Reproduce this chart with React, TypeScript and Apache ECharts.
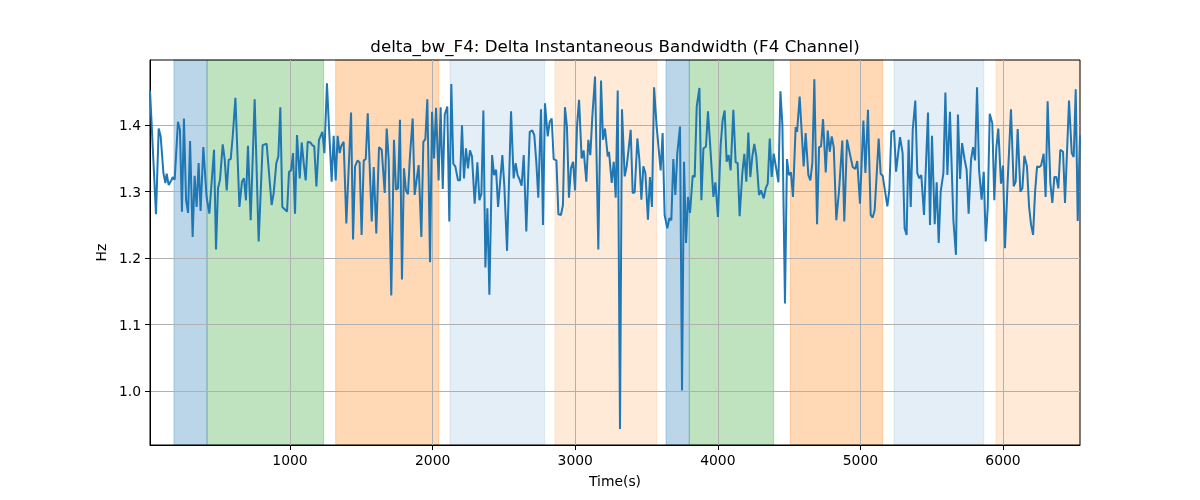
import React, { useEffect, useRef } from "react";
import * as echarts from "echarts";

const titleText = "delta_bw_F4: Delta Instantaneous Bandwidth (F4 Channel)";
const xLabel = "Time(s)";
const yLabel = "Hz";
const xTicks = [1000, 2000, 3000, 4000, 5000, 6000];
const yTicks = [1.0, 1.1, 1.2, 1.3, 1.4];
const xRange = [18, 6540];
const yRange = [0.919, 1.498];

const times = [
  18, 60, 79, 93, 112, 126, 135, 149, 168, 177, 191, 214, 228, 242, 256, 271, 285, 299, 317, 331,
  345, 359, 373, 392, 415, 434, 467, 481, 495, 509, 528, 542, 556, 570, 584, 598, 617, 645, 663, 677,
  691, 705, 724, 752, 780, 808, 836,
  871, 885, 904, 918, 932, 946, 979, 993, 1007, 1021, 1035, 1049, 1068, 1082, 1096, 1110, 1124, 1142,
  1156, 1170, 1185, 1203, 1227, 1241, 1259, 1273, 1292, 1306, 1320, 1334, 1348, 1358, 1376, 1395, 1428,
  1442, 1456, 1474, 1488, 1502, 1517, 1531, 1545, 1573, 1587, 1605, 1624, 1643,
  1664, 1678, 1692, 1710, 1729, 1743, 1757, 1771, 1785, 1799, 1813, 1827, 1841, 1860, 1874, 1888, 1902,
  1921, 1935, 1949, 1963, 1982, 1996, 2010, 2024, 2042, 2056, 2071, 2085, 2103, 2117, 2131, 2145, 2159,
  2178, 2192, 2206, 2220, 2234, 2248, 2262, 2276, 2295, 2314, 2328, 2342, 2356, 2370, 2384, 2398, 2417,
  2431, 2445, 2459,
  2489, 2503, 2522, 2550, 2568, 2582, 2596, 2610, 2624, 2639, 2657, 2681, 2699, 2713, 2727, 2741, 2760,
  2774, 2788, 2807, 2821, 2835, 2849, 2868, 2882, 2900, 2914, 2928, 2942, 2956, 2970, 2985, 2999, 3013,
  3027, 3045, 3059, 3078, 3092, 3106, 3120, 3139, 3162, 3181, 3195, 3209, 3228, 3237, 3256, 3270, 3284,
  3298,
  3314, 3328, 3347, 3361, 3375, 3389, 3403, 3417, 3436, 3450, 3464, 3478, 3492, 3510, 3524, 3538, 3553,
  3571, 3599, 3613, 3627, 3646, 3660, 3674, 3688, 3702, 3716, 3735, 3749, 3763, 3777, 3791, 3805, 3824,
  3838, 3852, 3871, 3885, 3899, 3917, 3931, 3950, 3969, 3983, 4001, 4020, 4034, 4048, 4062, 4076, 4090,
  4109,
  4125, 4139, 4153, 4172, 4186, 4200, 4214, 4228, 4242, 4256, 4270, 4289, 4303, 4322, 4336, 4350, 4364,
  4378, 4392, 4411, 4425, 4439, 4453, 4471, 4485, 4499, 4513, 4527, 4546, 4556, 4574, 4602, 4616, 4635,
  4649, 4663, 4677, 4696, 4710, 4724, 4738, 4757, 4771, 4785, 4799, 4813, 4831, 4850, 4873, 4887, 4906,
  4930,
  4946, 4964, 4978, 4997, 5021, 5035, 5053, 5072, 5086, 5100, 5114, 5128, 5142, 5156, 5189, 5203, 5217,
  5236, 5250, 5278, 5296, 5310, 5324, 5338, 5353, 5367, 5385, 5399, 5413, 5427, 5446, 5474, 5488, 5502,
  5521, 5535, 5549, 5563, 5582, 5596, 5610, 5628, 5652, 5670, 5684, 5699, 5713, 5731, 5745, 5759,
  5776, 5790, 5804, 5818, 5832, 5850, 5865, 5879, 5893, 5907, 5925, 5939, 5953, 5967, 5986, 6000, 6014,
  6033, 6056, 6075, 6089, 6103, 6122, 6136, 6150, 6168, 6183, 6197, 6211, 6225, 6239, 6253, 6267, 6285,
  6299, 6313, 6332, 6346, 6360, 6374, 6388, 6402, 6421, 6435, 6463, 6482, 6496, 6510, 6524, 6540,
];

const values = [
  1.452, 1.266, 1.395, 1.383, 1.328, 1.313, 1.327, 1.31, 1.317, 1.322, 1.318, 1.405, 1.393, 1.27, 1.41, 1.287, 1.268, 1.376, 1.232, 1.324,
  1.277, 1.343, 1.271, 1.367, 1.292, 1.267, 1.363, 1.213, 1.305, 1.318, 1.371, 1.348, 1.302, 1.348, 1.349, 1.383, 1.441, 1.277, 1.315, 1.32,
  1.287, 1.369, 1.257, 1.439, 1.225, 1.37, 1.372,
  1.28, 1.297, 1.343, 1.353, 1.427, 1.277, 1.27, 1.33, 1.332, 1.358, 1.267, 1.385, 1.32, 1.374, 1.343, 1.317, 1.375, 1.374,
  1.37, 1.368, 1.308, 1.378, 1.39, 1.358, 1.463, 1.398, 1.315, 1.384, 1.317, 1.384, 1.358, 1.368, 1.375, 1.252, 1.419,
  1.228, 1.338, 1.347, 1.344, 1.235, 1.347, 1.349, 1.418, 1.255, 1.337, 1.237, 1.367, 1.363,
  1.298, 1.395, 1.348, 1.144, 1.378, 1.303, 1.305, 1.408, 1.168, 1.335, 1.302, 1.296, 1.353, 1.41, 1.295, 1.318, 1.34,
  1.232, 1.375, 1.379, 1.439, 1.194, 1.42, 1.35, 1.426, 1.317, 1.427, 1.304, 1.416, 1.428, 1.255, 1.462, 1.342, 1.338,
  1.317, 1.317, 1.4, 1.32, 1.365, 1.335, 1.362, 1.353, 1.282, 1.344, 1.287, 1.297, 1.422, 1.186, 1.275, 1.145, 1.355,
  1.325, 1.333, 1.277,
  1.355, 1.308, 1.211, 1.421, 1.32, 1.343, 1.325, 1.318, 1.309, 1.355, 1.24, 1.39, 1.392, 1.385, 1.345, 1.291, 1.424,
  1.25, 1.433, 1.383, 1.405, 1.41, 1.349, 1.347, 1.266, 1.265, 1.28, 1.427, 1.398, 1.291, 1.335, 1.345, 1.302, 1.4,
  1.438, 1.35, 1.362, 1.315, 1.378, 1.355, 1.413, 1.473, 1.213, 1.467, 1.378, 1.395, 1.353, 1.36, 1.313, 1.345, 1.291,
  1.452,
  0.943, 1.424, 1.323, 1.338, 1.365, 1.393, 1.298, 1.299, 1.38, 1.348, 1.288, 1.338, 1.328, 1.258, 1.322, 1.277, 1.457,
  1.398, 1.332, 1.388, 1.265, 1.245, 1.26, 1.257, 1.349, 1.295, 1.358, 1.398, 1.001, 1.345, 1.223, 1.292, 1.268, 1.324,
  1.322, 1.428, 1.456, 1.287, 1.365, 1.368, 1.421, 1.358, 1.292, 1.314, 1.262, 1.37, 1.408, 1.422, 1.345, 1.355, 1.332,
  1.423,
  1.344, 1.343, 1.263, 1.328, 1.357, 1.315, 1.389, 1.322, 1.353, 1.372, 1.353, 1.295, 1.302, 1.29, 1.305, 1.312, 1.38,
  1.322, 1.357, 1.333, 1.314, 1.451, 1.4, 1.132, 1.349, 1.325, 1.329, 1.292, 1.397, 1.39, 1.443, 1.338, 1.388, 1.325,
  1.317, 1.343, 1.469, 1.251, 1.367, 1.368, 1.409, 1.329, 1.392, 1.36, 1.383, 1.367, 1.257, 1.301, 1.377, 1.255, 1.378,
  1.353,
  1.337, 1.334, 1.346, 1.282, 1.407, 1.328, 1.423, 1.265, 1.261, 1.272, 1.325, 1.38, 1.327, 1.324, 1.278, 1.303, 1.39,
  1.392, 1.33, 1.382, 1.358, 1.245, 1.235, 1.378, 1.277, 1.393, 1.437, 1.328, 1.32, 1.325, 1.265, 1.419, 1.25, 1.384,
  1.251, 1.314, 1.223, 1.3, 1.328, 1.449, 1.325, 1.42, 1.257, 1.205, 1.416, 1.319, 1.373, 1.348, 1.333, 1.267,
  1.348, 1.367, 1.347, 1.457, 1.333, 1.288, 1.33, 1.225, 1.277, 1.417, 1.403, 1.287, 1.365, 1.395, 1.312, 1.339, 1.215,
  1.317, 1.424, 1.308, 1.315, 1.394, 1.3, 1.305, 1.354, 1.338, 1.277, 1.25, 1.235, 1.3, 1.338, 1.337, 1.339, 1.357,
  1.292, 1.436, 1.313, 1.283, 1.322, 1.322, 1.305, 1.363, 1.36, 1.283, 1.437, 1.358, 1.352, 1.454, 1.256, 1.385,
];

const regionStarts = [186, 418, 1320, 2122, 2858, 3637, 3800, 4508, 5236, 5951];
const regionEnds = [418, 1236, 2043, 2786, 3571, 3800, 4392, 5156, 5865, 6540];
const regionKinds = ["blueDark", "green", "orangeDark", "blueLight", "orangeLight", "blueDark", "green", "orangeDark", "blueLight", "orangeLight"];

const kindStyle: Record<string, { fill: string; edge: string }> = {
  blueDark: { fill: "rgba(31,119,180,0.3)", edge: "rgba(31,119,180,0.3)" },
  green: { fill: "rgba(44,160,44,0.3)", edge: "rgba(44,160,44,0.3)" },
  orangeDark: { fill: "rgba(255,127,14,0.3)", edge: "rgba(255,127,14,0.3)" },
  blueLight: { fill: "rgba(31,119,180,0.12)", edge: "rgba(31,119,180,0.12)" },
  orangeLight: { fill: "rgba(255,127,14,0.16)", edge: "rgba(255,127,14,0.16)" },
};

const FONT = "DejaVu Sans";

export default function App() {
  const ref = useRef<HTMLDivElement>(null);
  useEffect(() => {
    if (!ref.current) return;
    const chart = echarts.init(ref.current, null, { renderer: "svg" });
    const lineData = times.map((t, i) => [t, values[i]]);
    const areas = regionStarts.map((s, i) => [
      {
        xAxis: s,
        itemStyle: {
          color: kindStyle[regionKinds[i]].fill,
          borderColor: kindStyle[regionKinds[i]].edge,
          borderWidth: 1,
        },
      },
      { xAxis: regionEnds[i] },
    ]);
    chart.setOption({
      animation: false,
      grid: {
        left: 150,
        right: 120,
        top: 60,
        bottom: 55,
        show: true,
        borderColor: "#000",
        borderWidth: 1,
        backgroundColor: "transparent",
      },
      graphic: [
        {
          type: "text",
          x: 615,
          y: 46,
          style: {
            text: titleText,
            fontFamily: FONT,
            fontSize: 16.7,
            fill: "#000",
            align: "center",
            verticalAlign: "middle",
          },
        },
      ],
      xAxis: {
        type: "value",
        min: xRange[0],
        max: xRange[1],
        name: xLabel,
        nameLocation: "middle",
        nameGap: 29,
        nameTextStyle: { fontFamily: FONT, fontSize: 13.9, color: "#000" },
        axisLine: { show: true, lineStyle: { color: "#000", width: 1 } },
        axisTick: { show: true, length: 5, lineStyle: { color: "#000" }, customValues: xTicks },
        axisLabel: {
          customValues: xTicks,
          fontFamily: FONT,
          fontSize: 13.9,
          color: "#000",
          margin: 8,
          formatter: (v: number) => String(v),
        },
        splitLine: { show: true, lineStyle: { color: "#b0b0b0", width: 1 } },
      },
      yAxis: {
        type: "value",
        min: yRange[0],
        max: yRange[1],
        name: yLabel,
        nameLocation: "middle",
        nameRotate: 90,
        nameGap: 34,
        nameTextStyle: { fontFamily: FONT, fontSize: 13.9, color: "#000" },
        axisLine: { show: true, lineStyle: { color: "#000", width: 1 } },
        axisTick: { show: true, length: 5, lineStyle: { color: "#000" }, customValues: yTicks },
        axisLabel: {
          customValues: yTicks,
          fontFamily: FONT,
          fontSize: 13.9,
          color: "#000",
          margin: 9,
          formatter: (v: number) => v.toFixed(1),
        },
        splitLine: { show: true, lineStyle: { color: "#b0b0b0", width: 1 } },
      },
      series: [
        {
          type: "line",
          data: lineData,
          showSymbol: false,
          symbol: "none",
          lineStyle: { color: "#1f77b4", width: 2 },
          z: 3,
          markArea: {
            silent: true,
            z: -1,
            data: areas,
          },
        },
      ],
    });
    return () => chart.dispose();
  }, []);
  return (
    <div
      ref={ref}
      style={{ position: "fixed", left: 0, top: 0, width: 1200, height: 500 }}
    />
  );
}
